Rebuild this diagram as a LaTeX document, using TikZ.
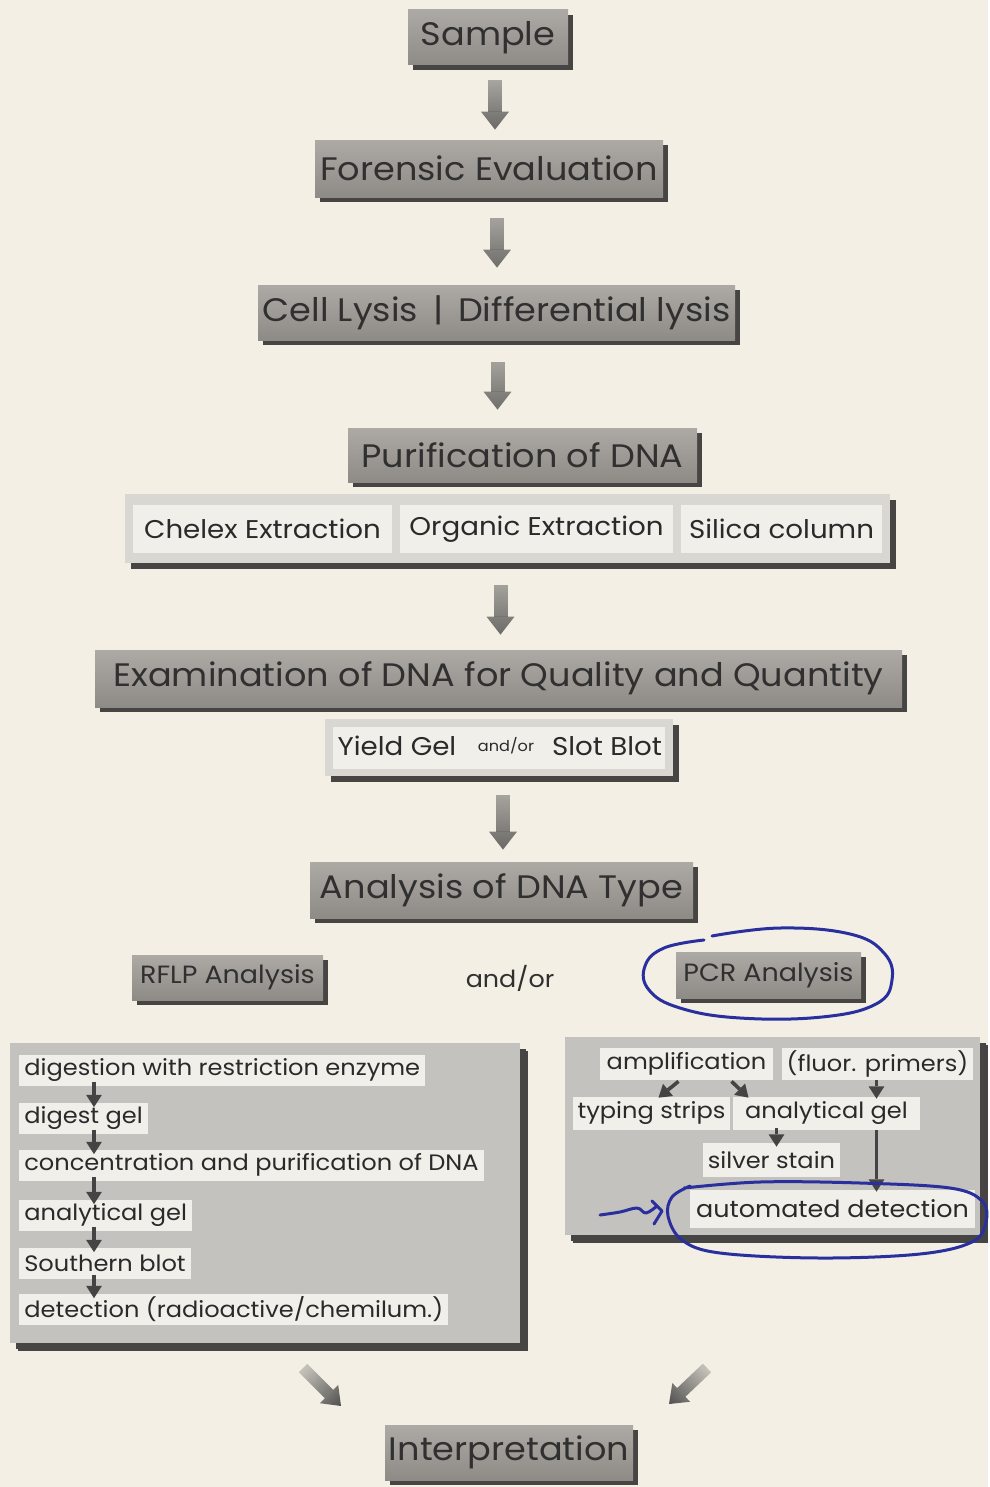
\documentclass[tikz,border=0pt]{standalone}
\usepackage{fontspec}
\setmainfont{Poppins}[FakeStretch=1.08]
\usetikzlibrary{arrows.meta,shadows,calc,fadings}
\newdimen\pxu \pxu=0.02cm
\definecolor{bgc}{HTML}{F3EFE4}
\definecolor{boxtop}{HTML}{ADAAA6}
\definecolor{boxbot}{HTML}{8E8B87}
\definecolor{shadowc}{HTML}{464544}
\definecolor{hdrtext}{HTML}{303030}
\definecolor{panelc}{HTML}{D9D7D2}
\definecolor{bigpanel}{HTML}{C4C2BE}
\definecolor{cellc}{HTML}{F1EFEA}
\definecolor{celltext}{HTML}{2A2A2A}
\definecolor{arrdark}{HTML}{555453}
\definecolor{smallarr}{HTML}{444444}
\definecolor{penblue}{HTML}{2A2F9E}
\tikzfading[name=arrfadeS, top color=transparent!70, bottom color=transparent!0]
\newcommand{\hdrfont}{\fontsize{18.5}{22}\selectfont}
\newcommand{\subfont}{\fontsize{14.2}{17}\selectfont}
\newcommand{\cellfont}{\fontsize{14.6}{17}\selectfont}
\newcommand{\andfont}{\fontsize{13.4}{16}\selectfont}
\newcommand{\rowfont}{\fontsize{12.7}{15}\selectfont}
\newcommand{\tinyfont}{\fontsize{8.5}{10}\selectfont}
\begin{document}
\begin{tikzpicture}[x=0.02cm,y=-0.02cm,
  sz/.style 2 args={minimum width=#1\pxu, minimum height=#2\pxu},
  hdr/.style={rectangle, inner sep=0pt, top color=boxtop, bottom color=boxbot,
    general shadow={fill=shadowc, shadow xshift=5\pxu, shadow yshift=-5\pxu},
    text=hdrtext, font=\hdrfont},
  subhdr/.style={hdr, font=\subfont},
  panel/.style={rectangle, inner sep=0pt, fill=panelc,
    general shadow={fill=shadowc, shadow xshift=6\pxu, shadow yshift=-6\pxu}},
  bigbox/.style={panel, fill=bigpanel,
    general shadow={fill=shadowc, shadow xshift=8\pxu, shadow yshift=-8\pxu}},
  cell/.style={rectangle, inner sep=0pt, fill=cellc, text=celltext, font=\cellfont},
  lab/.style={rectangle, fill=cellc, inner xsep=5\pxu, inner ysep=0pt,
    minimum height=31\pxu, text=celltext, font=\rowfont},
  bigarr/.style={line width=14\pxu, draw=arrdark, path fading=arrfadeS,
    -{Triangle[width=15.9pt,length=10.2pt,line width=0pt,color=arrdark]}},
  diagarr/.style={line width=12\pxu, draw=arrdark, path fading=arrfadeS, fading angle=#1,
    -{Triangle[width=14.7pt,length=9.6pt,line width=0pt,color=arrdark]}},
  sarr/.style={line width=3.6\pxu, draw=smallarr,
    -{Triangle[width=9pt,length=7pt,line width=0pt]}},
  pen/.style={draw=penblue, line width=3\pxu, line cap=round, line join=round}
]
\fill[bgc] (0,0) rectangle (988,1487);

% main chain
\node[hdr, sz={160}{55}] (sample) at (488,37.5) {Sample};
\node[hdr, sz={348}{57}] (forensic) at (489,168.5) {Forensic Evaluation};
\node[hdr, sz={477}{55}] (lysis) at (496.5,312.5) {Cell Lysis \,|\, Differential lysis};
\node[hdr, sz={349}{54}] (purif) at (522.5,455) {Purification of DNA};

\node[panel, sz={765}{69}] (extract) at (507.5,528.5) {};
\node[cell, sz={259}{48}] (chelex) at (262.5,529) {Chelex Extraction};
\node[cell, sz={273}{48}] (organic) at (536.5,529) {Organic Extraction};
\node[cell, sz={201}{48}] (silica) at (781.5,529) {Silica column};

\node[hdr, sz={807}{57}] (exam) at (498.5,678.5) {Examination of DNA for Quality and Quantity};

\node[panel, sz={348}{57}] (yield) at (499,747.5) {};
\node[cell, sz={332}{42}] (yieldin) at (499,747.5) {};
\node[cell, font=\cellfont] (yieldgel) at (397,746) {Yield Gel};
\node[cell, font=\tinyfont] (andor1) at (506,746) {and/or};
\node[cell, font=\cellfont] (slotblot) at (607,746) {Slot Blot};

\node[hdr, sz={383}{56}] (analysis) at (501.5,890) {Analysis of DNA Type};

\node[subhdr, sz={191}{45}] (rflp) at (227.5,977.5) {RFLP Analysis};
\node[text=hdrtext, font=\andfont] (andor2) at (510,978) {and/or};
\node[subhdr, sz={185}{46}] (pcr) at (768.5,975) {PCR Analysis};

% RFLP panel
\node[bigbox, sz={510}{300}] (rflpbox) at (265,1193) {};
\node[lab, anchor=west] (r1) at (19,1070) {digestion with restriction enzyme};
\node[lab, anchor=west] (r2) at (19,1118) {digest gel};
\node[lab, anchor=west] (r3) at (19,1165) {concentration and purification of DNA};
\node[lab, anchor=west] (r4) at (19,1215) {analytical gel};
\node[lab, anchor=west] (r5) at (19,1263) {Southern blot};
\node[lab, anchor=west] (r6) at (19,1309) {detection (radioactive/chemilum.)};
\foreach \a/\b in {r1/r2,r2/r3,r3/r4,r4/r5,r5/r6}
  \draw[sarr, shorten <=-4\pxu, shorten >=-5\pxu]
    ($(\a.south west)+(75,0)$) -- ($(\b.north west)+(75,0)$);

% PCR panel
\node[bigbox, sz={415}{198}] (pcrbox) at (772.5,1136) {};
\node[lab, sz={173}{32}] (amp) at (686.5,1064) {amplification};
\node[lab, sz={189}{32}] (fluor) at (877.5,1064) {(fluor. primers)};
\node[lab, sz={157}{33}] (typing) at (651.5,1113.5) {typing strips};
\node[lab, sz={187}{33}] (anagel) at (826.5,1113.5) {analytical gel};
\node[lab, sz={137}{34}] (silver) at (771.5,1160) {silver stain};
\node[lab, sz={285}{38}, font=\fontsize{13.4}{16}\selectfont] (auto) at (832.5,1209) {automated detection};
\draw[sarr] ($(amp.south)+(-8,1)$) -- ($(typing.north)+(7,1)$);
\draw[sarr] ($(amp.south)+(45,1)$) -- ($(anagel.north)+(-78,1)$);
\draw[sarr, shorten >=-2\pxu] ($(fluor.south)+(-1,0)$) -- ($(fluor.south |- anagel.north)+(-1,0)$);
\draw[sarr, shorten <=-2\pxu, shorten >=-4\pxu] ($(silver.north |- anagel.south)+(5,0)$) -- ($(silver.north)+(5,0)$);
\draw[sarr, line width=2.6\pxu, shorten >=-2\pxu] ($(fluor.south |- anagel.south)+(-1,0)$) -- ($(fluor.south |- auto.north)+(-1,0)$);

\node[hdr, sz={248}{55}] (interp) at (509,1452.5) {Interpretation};

% big arrows
\draw[bigarr, shorten <=15\pxu, shorten >=10\pxu]
  ($(sample.south)+(7,0)$) -- ($(sample.south |- forensic.north)+(7,0)$);
\draw[bigarr, shorten <=21\pxu, shorten >=17\pxu]
  ($(forensic.south)+(8,0)$) -- ($(forensic.south |- lysis.north)+(8,0)$);
\draw[bigarr, shorten <=22\pxu, shorten >=18\pxu]
  ($(lysis.south)+(1,0)$) -- ($(lysis.south |- purif.north)+(1,0)$);
\draw[bigarr, shorten <=22\pxu, shorten >=15\pxu]
  ($(extract.south)+(-7,0)$) -- ($(extract.south |- exam.north)+(-7,0)$);
\draw[bigarr, shorten <=19\pxu, shorten >=12\pxu]
  ($(yield.south)+(4,0)$) -- ($(yield.south |- analysis.north)+(4,0)$);
\coordinate (dl1) at (303,1368);
\coordinate (dl2) at (341,1406);
\coordinate (dr1) at (707,1368);
\coordinate (dr2) at (669,1404);
\draw[diagarr=45] (dl1) -- (dl2);
\draw[diagarr=-45] (dr1) -- (dr2);

% hand-drawn blue marks
\draw[pen] plot[smooth, tension=0.7] coordinates {(712,936) (780,928) (850,934) (884,953) (892,980) (876,1004) (822,1017) (740,1018) (680,1008) (649,990) (645,966) (664,948) (704,940)};
\draw[pen] plot[smooth, tension=0.6] coordinates {(684,1188) (760,1182) (860,1183) (950,1188) (982,1201) (986,1222) (972,1242) (920,1254) (820,1258) (720,1253) (682,1240) (668,1216) (672,1197) (690,1186)};
\draw[pen] plot[smooth, tension=0.6] coordinates {(600,1215) (620,1212) (637,1208) (646,1213) (657,1206)};
\draw[pen] (652,1201) -- (662,1211) -- (654,1224);
\end{tikzpicture}
\end{document}
